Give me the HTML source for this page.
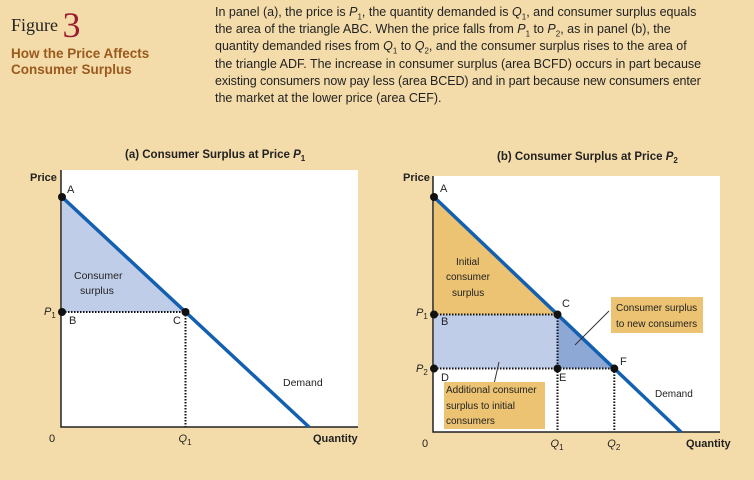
<!DOCTYPE html>
<html><head><meta charset="utf-8">
<style>
body{margin:0;width:754px;height:480px;background:#f4dcaa;overflow:hidden;font-family:"Liberation Sans",sans-serif;position:relative}
.ln{position:absolute;left:215px;font-size:12.5px;color:#222;white-space:nowrap}
svg text{font-family:"Liberation Sans",sans-serif}
</style></head><body>
<div style="position:absolute;left:11px;top:4px;font-family:'Liberation Serif',serif;font-size:18px;color:#222">Figure <span style="font-size:36px;color:#9b1b30;vertical-align:-6px">3</span></div>
<div style="position:absolute;left:11px;top:46px;font-size:13.5px;font-weight:bold;color:#9a5a1e;line-height:16px">How the Price Affects<br>Consumer Surplus</div>
<div>
<div class="ln" style="top:5px">In panel (a), the price is <i>P</i><sub style="font-size:8px">1</sub>, the quantity demanded is <i>Q</i><sub style="font-size:8px">1</sub>, and consumer surplus equals</div>
<div class="ln" style="top:22px">the area of the triangle ABC. When the price falls from <i>P</i><sub style="font-size:8px">1</sub> to <i>P</i><sub style="font-size:8px">2</sub>, as in panel (b), the</div>
<div class="ln" style="top:39px">quantity demanded rises from <i>Q</i><sub style="font-size:8px">1</sub> to <i>Q</i><sub style="font-size:8px">2</sub>, and the consumer surplus rises to the area of</div>
<div class="ln" style="top:57px">the triangle ADF. The increase in consumer surplus (area BCFD) occurs in part because</div>
<div class="ln" style="top:74px;letter-spacing:-0.1px">existing consumers now pay less (area BCED) and in part because new consumers enter</div>
<div class="ln" style="top:91px">the market at the lower price (area CEF).</div>
</div>
<svg id="s" width="754" height="480" style="position:absolute;left:0;top:0"></svg>
<script>
const demandIntercepts=[10,10];
const pricesA=[5];
const quantitiesA=[5];
const pricesB=[5,2.7];
const quantitiesB=[5,7.3];
const NS="http://www.w3.org/2000/svg";
const svg=document.getElementById('s');
function el(t,a,txt){const e=document.createElementNS(NS,t);for(const k in a)e.setAttribute(k,a[k]);if(txt!==undefined)e.textContent=txt;svg.appendChild(e);return e;}
function panel(P){
 const X=q=>P.x0+(q/P.qmax)*(P.xEnd-P.x0);
 const Y=p=>P.y0-(p/P.pmax)*(P.y0-P.yTop);
 return {X,Y};
}
function text(x,y,s,extra){const t=el('text',Object.assign({x:x,y:y,'font-size':11,fill:'#222'},extra||{}),s);return t;}
function sub(x,y,main,sb,name){const t=el('text',{x:x,y:y,'font-size':11,fill:'#222','font-style':'italic'});t.innerHTML=main+'<tspan font-size="8" dy="3" font-style="normal">'+sb+'</tspan>';return t;}
function dot(x,y,name){const c=el('circle',{cx:x,cy:y,r:4,fill:'#111'});}
function dotted(x1,y1,x2,y2,name){const l=el('line',{x1,y1,x2,y2,stroke:'#111','stroke-width':2,'stroke-dasharray':'1.5,1.5'});}

// Panel A
{
 const P={x0:62,y0:427,yTop:197,xEnd:309,qmax:10,pmax:demandIntercepts[0]};
 const {X,Y}=panel(P);
 const bg=el('rect',{x:61,y:170,width:297,height:257,fill:'#fff'});
 const p1=pricesA[0],q1=quantitiesA[0];
 const tri=el('polygon',{points:`${X(0)},${Y(P.pmax)} ${X(0)},${Y(p1)} ${X(q1)},${Y(p1)}`,fill:'#c0cde8'});
 dotted(X(0),Y(p1),X(q1),Y(p1),'p1-guide');dotted(X(q1),Y(p1),X(q1),P.y0,'q1-guide');
 const ax=el('path',{d:`M61,170 V427 H358`,stroke:'#222','stroke-width':1.5,fill:'none'});
 const d=el('line',{x1:X(0),y1:Y(P.pmax),x2:X(10),y2:Y(0),stroke:'#1460b0','stroke-width':3.5});
 dot(X(0),Y(P.pmax),'point-a');dot(X(0),Y(p1),'point-b');dot(X(q1),Y(p1),'point-c');
 let t=text(125,158,'(a) Consumer Surplus at Price ',{'font-weight':'bold','font-size':11.5});t.innerHTML+='<tspan font-style="italic">P</tspan><tspan font-size="8" dy="3">1</tspan>';
 t=text(30,181,'Price',{'font-weight':'bold'});
 t=text(313,442,'Quantity',{'font-weight':'bold'});
 t=text(49,442,'0');
 sub(44,315,'P','1','p1-label-a');sub(X(q1)-7,442,'Q','1','q1-label-a');
 t=text(67,193,'A');
 t=text(69,324,'B');
 t=text(173,324,'C');
 t=text(74,279,'Consumer',{'font-size':10.5});
 t=text(80,294,'surplus',{'font-size':10.5});
 t=text(283,386,'Demand',{'font-size':10.5});
}
// Panel B
{
 const P={x0:434,y0:432,yTop:197,xEnd:681,qmax:10,pmax:demandIntercepts[1]};
 const {X,Y}=panel(P);
 const bg=el('rect',{x:433,y:176,width:287,height:256,fill:'#fff'});
 const [p1,p2]=pricesB,[q1,q2]=quantitiesB;
 let s=el('polygon',{points:`${X(0)},${Y(P.pmax)} ${X(0)},${Y(p1)} ${X(q1)},${Y(p1)}`,fill:'#ecc372'});
 s=el('rect',{x:X(0),y:Y(p1),width:X(q1)-X(0),height:Y(p2)-Y(p1),fill:'#c0cde8'});
 s=el('polygon',{points:`${X(q1)},${Y(p1)} ${X(q1)},${Y(p2)} ${X(q2)},${Y(p2)}`,fill:'#8ea8d6'});
 dotted(X(0),Y(p1),X(q1),Y(p1),'p1-guide-b');dotted(X(0),Y(p2),X(q2),Y(p2),'p2-guide');
 dotted(X(q1),Y(p1),X(q1),P.y0,'q1-guide-b');dotted(X(q2),Y(p2),X(q2),P.y0,'q2-guide');
 const ax=el('path',{d:`M433,176 V432 H720`,stroke:'#222','stroke-width':1.5,fill:'none'});
 const d=el('line',{x1:X(0),y1:Y(P.pmax),x2:X(10),y2:Y(0),stroke:'#1460b0','stroke-width':3.5});
 dot(X(0),Y(P.pmax),'point-a-b');dot(X(0),Y(p1),'point-b-b');dot(X(q1),Y(p1),'point-c-b');
 dot(X(0),Y(p2),'point-d');dot(X(q1),Y(p2),'point-e');dot(X(q2),Y(p2),'point-f');
 let l=el('line',{x1:575,y1:345,x2:609,y2:311,stroke:'#333','stroke-width':1});
 l=el('line',{x1:499,y1:362,x2:494,y2:384,stroke:'#333','stroke-width':1});
 let b=el('rect',{x:611,y:297,width:92,height:36,fill:'#ecc372'});
 b=el('rect',{x:444,y:382,width:101,height:47,fill:'#ecc372'});
 let t=text(497,160,'(b) Consumer Surplus at Price ',{'font-weight':'bold','font-size':11.5});t.innerHTML+='<tspan font-style="italic">P</tspan><tspan font-size="8" dy="3">2</tspan>';
 t=text(403,181,'Price',{'font-weight':'bold'});
 t=text(686,447,'Quantity',{'font-weight':'bold'});
 t=text(422,447,'0');
 sub(416,316,'P','1','p1-label-b');sub(416,372,'P','2','p2-label');
 sub(X(q1)-7,447,'Q','1','q1-label-b');sub(X(q2)-7,447,'Q','2','q2-label');
 const labs=[['A',440,192],['B',441,325],['C',562,307],['D',441,381],['E',559,381],['F',620,365]];
 for(const [s2,x,y] of labs){t=text(x,y,s2);}
 const lines=[['Initial',456,265],['consumer',446,280],['surplus',452,296],['Consumer surplus',616,311],['to new consumers',616,327],['Additional consumer',446,393],['surplus to initial',446,409],['consumers',446,424],['Demand',655,397]];
 for(const [s2,x,y] of lines){t=text(x,y,s2,{'font-size':10,'textLength':undefined});t.removeAttribute('textLength');}
}
</script>
</body></html>
